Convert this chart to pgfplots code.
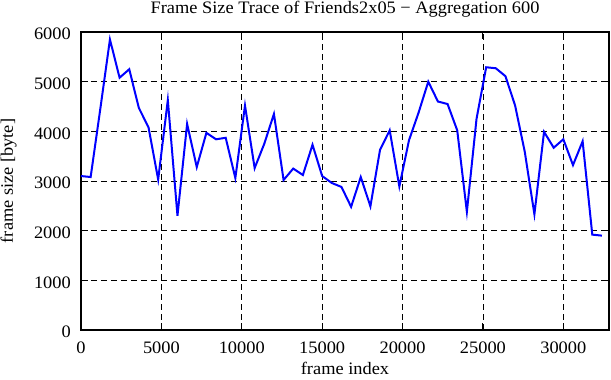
\documentclass[border=0pt]{standalone}
\usepackage{fontspec}
\setmainfont{Liberation Serif}[FakeStretch=1.05]
\usepackage{pgfplots}
\pgfplotsset{compat=1.18}
\newcommand{\lf}{\fontsize{17.5pt}{20pt}\selectfont}
\begin{document}
\lf
\begin{tikzpicture}
\begin{axis}[
  scale only axis,
  width=528pt, height=298pt,
  xmin=0, xmax=32840, ymin=0, ymax=6000,
  xtick={0,5000,...,30000}, ytick={0,1000,...,6000},
  scaled ticks=false,
  /pgf/number format/assume math mode=true,
  /pgf/number format/set thousands separator={},
  tick label style={font=\lf, inner sep=0pt},
  xticklabel style={anchor=base, yshift=-24pt},
  yticklabel style={anchor=east, xshift=-10pt, yshift=-2pt},
  title={Frame Size Trace of Friends2x05 − Aggregation 600},
  every axis title shift=0pt,
  title style={font=\lf, at={(axis description cs:0.5,1)}, anchor=base, yshift=18.4pt, inner sep=0pt},
  xlabel={frame index},
  xlabel style={font=\lf, at={(axis description cs:0.5,0)}, anchor=base, yshift=-44.6pt, inner sep=0pt},
  ylabel={frame size [byte]},
  ylabel style={font=\lf, at={(axis description cs:0,0.5)}, anchor=base, yshift=68pt, inner sep=0pt},
  tick pos=both, tick align=inside, major tick length=7pt,
  grid=major,
  major grid style={black, line width=0.8pt, dash pattern=on 6pt off 4pt},
  axis line style={black, line width=1.5pt},
  every tick/.style={black, line width=1pt},
]
\coordinate (bl) at (rel axis cs:0,0);
\coordinate (tr) at (rel axis cs:1,1);
\addplot[blue, line width=2pt, mark=none] coordinates {
(0,3100) (600,3080) (1200,4450) (1800,5850) (2400,5080) (3000,5250)
(3600,4470) (4200,4080) (4800,3030) (5400,4630) (6000,2300) (6600,4150)
(7200,3280) (7800,3970) (8400,3840) (9000,3870) (9600,3060) (10200,4520)
(10800,3260) (11400,3750) (12000,4350) (12600,3020) (13200,3250) (13800,3120)
(14400,3730) (15000,3100) (15600,2960) (16200,2880) (16800,2480) (17400,3080)
(18000,2490) (18600,3630) (19200,4020) (19800,2890) (20400,3820) (21000,4380)
(21600,5000) (22200,4600) (22800,4550) (23400,4020) (24000,2380) (24600,4250)
(25200,5290) (25800,5270) (26400,5110) (27000,4520) (27600,3590) (28200,2330)
(28800,3990) (29400,3670) (30000,3840) (30600,3320) (31200,3800) (31800,1920)
(32400,1900)
};
\end{axis}
\pgfresetboundingbox
\path ([shift={(-81pt,-50pt)}]bl) rectangle ([shift={(2pt,32pt)}]tr);
\end{tikzpicture}
\end{document}
